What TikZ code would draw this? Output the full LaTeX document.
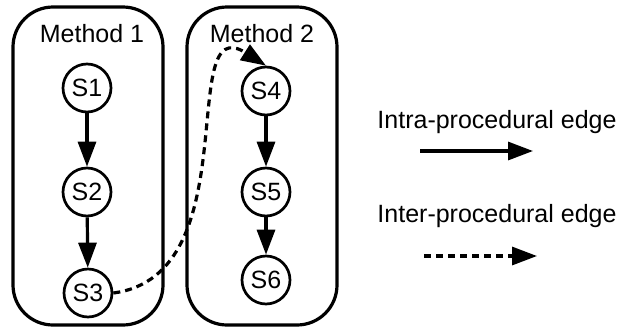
\documentclass[tikz,border=0pt]{standalone}
\usepackage{fontspec}
\setmainfont{Liberation Sans}
\usetikzlibrary{arrows.meta}
\begin{document}
\begin{tikzpicture}[x=1pt,y=-1pt,
  font=\fontsize{25}{30}\selectfont,
  methodbox/.style={draw,line width=3.2pt,rounded corners=40pt},
  stmt/.style={draw,circle,line width=2.7pt,minimum size=48pt,inner sep=0pt},
  lbl/.style={anchor=base,inner sep=0pt},
  tipstyle/.style={-{Triangle[length=25pt,width=18pt]}},
  intra/.style={line width=3.2pt,tipstyle},
  inter/.style={line width=3.2pt,dash pattern=on 7pt off 5pt,tipstyle}]
\useasboundingbox (0,0) rectangle (623,327);
\draw[methodbox] (13,7) rectangle (163,325);
\draw[methodbox] (187,7) rectangle (337,325);
\node[lbl] (m1) at (92,42) {Method 1};
\node[lbl] (m2) at (262,42) {Method 2};
\node[stmt] (s1) at (87,88) {S1};
\node[stmt] (s2) at (87,192) {S2};
\node[stmt] (s3) at (88,293) {S3};
\node[stmt] (s4) at (266,91) {S4};
\node[stmt] (s5) at (266,192) {S5};
\node[stmt] (s6) at (266,280) {S6};
\draw[intra] (s1) -- (s2);
\draw[intra] (s2) -- (s3);
\draw[intra] (s4) -- (s5);
\draw[intra] (s5) -- (s6);
\draw[inter] (s3.east) .. controls (250,275) and (175,8) .. (s4.north);
\node[lbl] (t1) at (497,128) {Intra-procedural edge};
\node[lbl] (t2) at (497,222) {Inter-procedural edge};
\coordinate (a1) at (420,151);
\coordinate (b1) at (533,151);
\coordinate (a2) at (424,256);
\coordinate (b2) at (537,256);
\draw[intra] (a1) -- (b1);
\draw[inter] (a2) -- (b2);
\end{tikzpicture}
\end{document}
